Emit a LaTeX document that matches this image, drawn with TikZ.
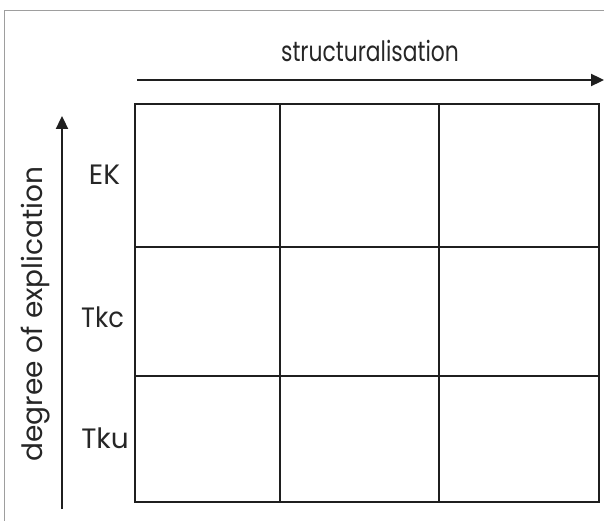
\documentclass[tikz,border=0pt]{standalone}
\usepackage{fontspec}
\setmainfont{Poppins}
\usetikzlibrary{arrows.meta}
\begin{document}
\begin{tikzpicture}[x=1pt,y=-1pt,
  gridline/.style={line width=2.4pt, black!88},
  axis/.style={line width=2.3pt, black!88, -{Triangle[length=13pt,width=12pt]}},
  lbl/.style={font=\fontsize{28}{32}\selectfont, text=black!85, inner sep=0pt, anchor=base},
  frameline/.style={line width=1pt, black!38}]
\useasboundingbox (0,0) rectangle (604,521);
% outer frame (only top and left edges fall inside the page)
\draw[frameline] (4.5,530) -- (4.5,10.5) -- (610,10.5);
% 3x3 grid
\coordinate (g00) at (135,104);
\coordinate (g11) at (599,502);
\draw[gridline] (g00) rectangle (g11);
\draw[gridline] (280,104) -- (280,502);
\draw[gridline] (439,104) -- (439,502);
\draw[gridline] (135,247) -- (599,247);
\draw[gridline] (135,376) -- (599,376);
% axes
\coordinate (hx0) at (137,80);
\coordinate (hx1) at (604,80);
\draw[axis] (hx0) -- (hx1);
\coordinate (vy0) at (62,509);
\coordinate (vy1) at (62,116);
\draw[axis] (vy0) -- (vy1);
% labels
\node[lbl] (hlab) at (370,62) {\scalebox{0.78}[1]{structuralisation}};
\node[lbl, rotate=90] (vlab) at (42,314) {degree of explication};
\node[lbl] (ek) at (104.5,185) {EK};
\node[lbl] (tkc) at (102.5,327) {\scalebox{0.92}[1]{Tkc}};
\node[lbl] (tku) at (105,448) {Tku};
\end{tikzpicture}
\end{document}
